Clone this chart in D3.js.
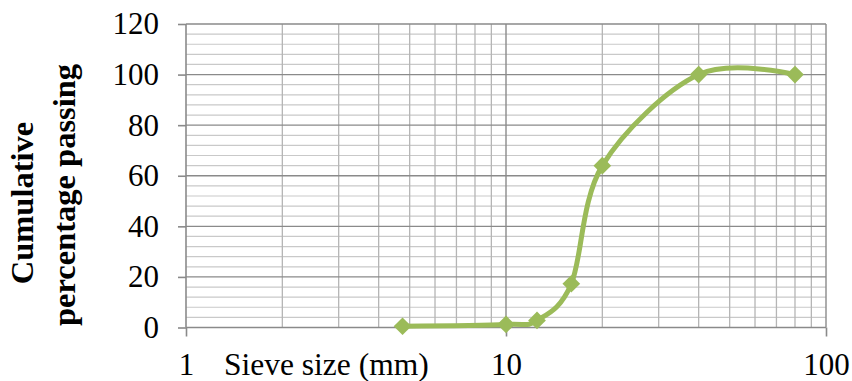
<!DOCTYPE html>
<html>
<head>
<meta charset="utf-8">
<script src="https://cdn.jsdelivr.net/npm/d3@7"></script>
<style>
  html, body { margin: 0; padding: 0; background: #fff; }
  svg { display: block; }
</style>
</head>
<body>
<svg id="chart" width="852" height="381"></svg>
<script>
// ---- Data ----
const sieveSizes = [4.75, 10, 12.5, 16, 20, 40, 80];        // mm
const cumulativePassing = [0.5, 1.2, 2.8, 17.3, 64, 100, 100]; // %
const yTickValues = [0, 20, 40, 60, 80, 100, 120];
const xTickValues = [1, 10, 100];
const xAxisTitle = "Sieve size (mm)";
const yAxisTitleLines = ["Cumulative", "percentage passing"];

// ---- Layout ----
const plotL = 186, plotR = 826, plotT = 24, plotB = 327.5;
const svg = d3.select("#chart");
const FONT = "'Liberation Serif', 'Times New Roman', serif";

const x = d3.scaleLog().domain([1, 100]).range([plotL, plotR]);
const y = d3.scaleLinear().domain([0, 120]).range([plotB, plotT]);

const grid = svg.append("g");

// minor horizontal gridlines every 4
const yMinor = d3.range(0, 121, 4).filter(v => v % 20 !== 0);
grid.selectAll("line.hmin").data(yMinor).join("line")
  .attr("x1", plotL).attr("x2", plotR)
  .attr("y1", d => y(d)).attr("y2", d => y(d))
  .attr("stroke", "#c9c9c9").attr("stroke-width", 1.2);

// minor vertical gridlines
const xMinor = [2,3,4,5,6,7,8,9,20,30,40,50,60,70,80,90];
grid.selectAll("line.vmin").data(xMinor).join("line")
  .attr("x1", d => x(d)).attr("x2", d => x(d))
  .attr("y1", plotT).attr("y2", plotB)
  .attr("stroke", "#b5b5b5").attr("stroke-width", 1.3);

// major horizontal gridlines
grid.selectAll("line.hmaj").data(yTickValues.filter(v => v > 0)).join("line")
  .attr("x1", plotL).attr("x2", plotR)
  .attr("y1", d => y(d)).attr("y2", d => y(d))
  .attr("stroke", "#8a8a8a").attr("stroke-width", 1.4);

// major vertical gridline at 10 and right border at 100
grid.selectAll("line.vmaj").data([10, 100]).join("line")
  .attr("x1", d => x(d)).attr("x2", d => x(d))
  .attr("y1", plotT).attr("y2", plotB)
  .attr("stroke", "#8a8a8a").attr("stroke-width", 1.4);

// ---- Axes ----
const yAxis = d3.axisLeft(y).tickValues(yTickValues).tickSize(8).tickPadding(19)
  .tickFormat(d3.format("d"));
const gy = svg.append("g").attr("transform", `translate(${plotL},0)`).call(yAxis);

const xAxis = d3.axisBottom(x).tickValues(xTickValues).tickSize(9).tickPadding(16)
  .tickFormat(d3.format("d"));
const gx = svg.append("g").attr("transform", `translate(0,${plotB})`).call(xAxis);

[gy, gx].forEach(g => {
  g.select(".domain").attr("stroke", "#8a8a8a").attr("stroke-width", 1.6);
  g.selectAll(".tick line").attr("stroke", "#8a8a8a").attr("stroke-width", 1.6);
  g.selectAll(".tick text").attr("fill", "#000")
    .style("font-family", FONT).style("font-size", "31px");
});
gx.select(".domain").attr("d", `M${plotL},0H${plotR}`);
gy.select(".domain").attr("d", `M0,${plotB}V${plotT}`);

// ---- Titles ----
svg.append("text")
  .attr("x", 224).attr("y", 375)
  .style("font-family", FONT).style("font-size", "31.5px")
  .attr("fill", "#000")
  .text(xAxisTitle);

const titleX = [33, 75];
const titleY = [203, 195];
yAxisTitleLines.forEach((t, i) => {
  svg.append("text")
    .attr("transform", `translate(${titleX[i]},${titleY[i]}) rotate(-90)`)
    .attr("text-anchor", "middle")
    .style("font-family", FONT).style("font-size", "32.5px").style("font-weight", "bold")
    .attr("fill", "#000")
    .text(t);
});

// ---- Series ----
const pts = sieveSizes.map((s, i) => [s, cumulativePassing[i]]);
const line = d3.line().x(d => x(d[0])).y(d => y(d[1])).curve(d3.curveCardinal.tension(0));
svg.append("path").datum(pts)
  .attr("d", line)
  .attr("fill", "none").attr("stroke", "#9BBB59").attr("stroke-width", 5)
  .attr("stroke-linejoin", "round");

const diamond = d3.symbol().type(d3.symbolDiamond2).size(200);
svg.selectAll("path.marker").data(pts).join("path")
  .attr("class", "marker")
  .attr("transform", d => `translate(${x(d[0])},${y(d[1])})`)
  .attr("d", diamond)
  .attr("fill", "#9BBB59");
</script>
</body>
</html>
